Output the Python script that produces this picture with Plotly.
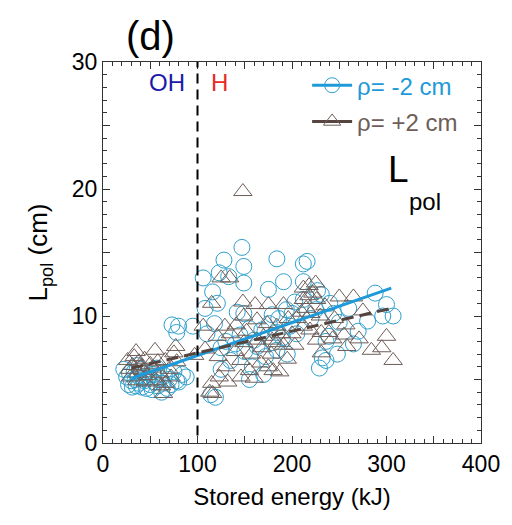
import plotly.graph_objects as go

# ---- data ----
circ_x = [22,25,27,28,30,31,33,34,35,36,37,38,40,41,42,44,45,46,48,50,52,53,55,57,58,60,62,63,65,68,70,72,75,78,80,84,88,73,80,95,78,
          106,108,114,119,116,121,123,128,133,142,147,149,149,149,160,175,184,184,191,194,212,216,212,212,227,231,203,179,184,236,232,229,288,300,296,307,270,239,236,244,
          125,130,135,140,145,150,155,158,163,168,172,176,180,186,190,195,198,170,155,125,110,118,200,205,220,225,240,250,260,265,280,248]
circ_y = [5.8,5.2,4.6,5.5,4.9,4.4,5.6,5.0,4.5,6.1,5.3,4.7,5.8,4.4,5.1,4.9,5.6,4.3,5.2,4.6,4.2,5.4,4.8,5.9,4.5,5.1,4.0,4.7,5.3,4.3,5.0,4.6,5.6,4.9,4.8,5.4,5.2,9.3,9.2,9.2,8.7,
          13.0,10.6,3.8,3.6,11.9,11.0,13.4,14.4,13.1,10.3,15.4,13.9,12.6,10.2,8.1,12.1,14.5,8.7,12.7,10.5,14.1,14.3,12.7,11.3,12.0,11.7,11.1,10.1,7.3,8.0,6.7,5.9,11.8,10.9,10.0,10.0,8.8,8.4,6.5,10.2,
          7.5,8.0,6.5,7.8,8.5,7.2,9.0,6.0,7.6,8.9,6.8,9.4,7.9,9.8,8.3,7.0,9.2,5.4,5.0,5.8,8.6,9.4,10.2,8.6,9.8,10.5,11.0,9.5,10.6,7.8,9.6,7.0]

tri_x = [26,29,31,35,37,40,33,38,42,44,47,50,52,55,56,58,60,62,64,66,66,70,72,75,77,78,45,36,28,
         97,106,108,113,115,116,115,121,122,123,125,129,130,132,134,141,146,146,148,148,149,149,155,160,161,163,163,167,170,174,175,175,179,180,184,184,187,191,191,195,200,205,
         212,218,222,226,212,215,220,212,219,226,231,231,239,243,250,265,257,255,258,271,300,295,284,307,
         140,135,152,157,168,178,188,196,203,210,225,218,230,235,245,275]
tri_y = [6.5,5.2,6.1,7.2,5.5,6.0,6.8,6.4,5.7,6.6,5.3,6.2,5.9,7.3,4.9,6.4,5.5,4.5,3.9,6.5,4.7,5.8,5.2,7.1,7.6,6.4,4.8,4.9,5.8,
         6.9,9.2,7.4,4.0,4.7,3.9,11.0,8.4,6.8,5.2,13.0,9.2,6.0,4.8,13.0,9.3,6.5,5.2,11.1,19.8,7.9,10.0,5.7,5.1,10.9,8.1,9.7,6.3,8.4,9.4,10.9,6.0,8.1,5.7,7.9,9.2,5.6,10.9,7.7,6.6,8.6,9.8,
         12.2,12.4,11.8,11.3,11.3,10.6,10.2,9.2,8.9,8.1,7.1,8.7,8.7,8.2,11.5,11.5,9.3,8.5,7.6,8.2,8.4,7.5,7.3,6.5,
         7.2,8.6,8.8,7.0,7.5,7.0,8.6,9.8,7.7,10.3,12.6,11.6,10.0,10.8,9.8,10.4]

fit_x = [30, 305]
fit_minus2 = [5.08, 12.2]
fit_plus2 = [5.9, 10.6]

x_ticks = [0, 50, 100, 150, 200, 250, 300, 350, 400]
x_labels = ["0", "", "100", "", "200", "", "300", "", "400"]
y_ticks = [0, 5, 10, 15, 20, 25, 30]
y_labels = ["0", "", "10", "", "20", "", "30"]

series_names = ["ρ= -2 cm", "ρ= +2 cm"]

C_BLUE = "#2f9fcc"
C_BLUE_LINE = "#1e9ad8"
C_BROWN = "#6e5d58"
C_BROWN_LINE = "#56453f"

fig = go.Figure()

fig.add_trace(go.Scatter(x=circ_x, y=circ_y, mode="markers", showlegend=False,
                         marker=dict(symbol="circle-open", size=16, color=C_BLUE, line=dict(width=1))))
fig.add_trace(go.Scatter(x=tri_x, y=tri_y, mode="markers", showlegend=False,
                         marker=dict(symbol="triangle-up-open", size=16, color=C_BROWN, line=dict(width=1))))
fig.add_trace(go.Scatter(x=fit_x, y=fit_minus2, mode="lines", showlegend=False,
                         line=dict(color=C_BLUE_LINE, width=3)))
fig.add_trace(go.Scatter(x=fit_x, y=fit_plus2, mode="lines", showlegend=False,
                         line=dict(color=C_BROWN_LINE, width=3, dash="12px,6px")))

# legend entries
fig.add_trace(go.Scatter(x=[None], y=[None], mode="lines+markers", legendgroup="a",
                         name=f'<span style="color:{C_BLUE_LINE}">{series_names[0]}</span>',
                         line=dict(color=C_BLUE_LINE, width=3),
                         marker=dict(symbol="circle-open", size=15, color=C_BLUE, line=dict(width=1))))
fig.add_trace(go.Scatter(x=[None], y=[None], mode="lines+markers", legendgroup="b",
                         name=f'<span style="color:{C_BROWN}">{series_names[1]}</span>',
                         line=dict(color=C_BROWN_LINE, width=3),
                         marker=dict(symbol="triangle-up-open", size=15, color=C_BROWN, line=dict(width=1))))

fig.add_shape(type="line", x0=100, x1=100, y0=0.6, y1=30, xref="x", yref="y",
              line=dict(color="black", width=2, dash="10px,6px"))

font = "Liberation Sans, Arial, Helvetica, sans-serif"

fig.add_annotation(x=0.125, y=1.005, xref="paper", yref="paper", text="(d)", showarrow=False,
                   xanchor="center", yanchor="bottom", font=dict(size=40, color="black", family=font))
fig.add_annotation(x=68, y=28.4, xref="x", yref="y", text="OH", showarrow=False,
                   font=dict(size=24, color="#1a1aaa", family=font))
fig.add_annotation(x=123, y=28.4, xref="x", yref="y", text="H", showarrow=False,
                   font=dict(size=24, color="#e82a2a", family=font))
fig.add_annotation(x=299, y=21.5, xref="x", yref="y", text="L", showarrow=False,
                   xanchor="left", font=dict(size=37, color="black", family=font))
fig.add_annotation(x=322, y=19.0, xref="x", yref="y", text="pol", showarrow=False,
                   xanchor="left", font=dict(size=24, color="black", family=font))

axis_common = dict(showline=True, linecolor="#333", linewidth=1, mirror="ticks", ticks="inside",
                   tickcolor="#333", ticklen=7, tickwidth=1, showgrid=False, zeroline=False,
                   tickfont=dict(size=23, color="black", family=font))

fig.update_xaxes(range=[0, 400], tickvals=x_ticks, ticktext=x_labels,
                 minor=dict(dtick=10, ticks="inside", ticklen=4, tickcolor="#333", showgrid=False),
                 title=dict(text="Stored energy (kJ)", font=dict(size=24, color="black", family=font), standoff=12),
                 **axis_common)
fig.update_yaxes(range=[0, 30], tickvals=y_ticks, ticktext=y_labels,
                 minor=dict(dtick=1, ticks="inside", ticklen=4, tickcolor="#333", showgrid=False),
                 title=dict(text="L<sub>pol</sub> (cm)", font=dict(size=26, color="black", family=font), standoff=16),
                 **axis_common)

fig.update_layout(
    width=512, height=525,
    margin=dict(l=103, r=24, t=62, b=82),
    paper_bgcolor="white", plot_bgcolor="white",
    font=dict(family=font, size=20, color="black"),
    legend=dict(x=0.54, y=0.997, xanchor="left", yanchor="top", bgcolor="rgba(0,0,0,0)",
                font=dict(size=24, family=font), itemwidth=40, tracegroupgap=2,
                traceorder="grouped"),
)

fig.write_html("out.html")
